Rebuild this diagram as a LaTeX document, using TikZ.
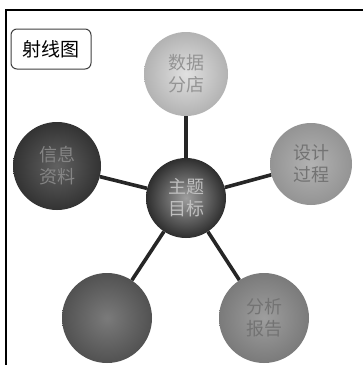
\documentclass[tikz,border=0pt]{standalone}
\usepackage{fontspec}
\newfontfamily\cjk{Noto Sans CJK SC}
\begin{document}
\begin{tikzpicture}[x=1pt,y=-1pt,
  ball/.style={circle, minimum size=#1, inner sep=0pt, align=center,
    font=\cjk\fontsize{18}{22}\selectfont},
  spoke/.style={line width=3.6pt, draw=black!85},
  frame/.style={line width=1.6pt, draw=black}]
\useasboundingbox (0,0) rectangle (363,365);
\fill[white] (0,0) rectangle (363,365);
% outer frame (left and top edges)
\draw[frame] (6,365) -- (6,10) -- (363,10);
% title tag
\node[draw=black!75, line width=1pt, rounded corners=6pt, minimum width=80pt,
  minimum height=40pt, inner sep=0pt, font=\cjk\fontsize{19}{21}\selectfont]
  (tag) at (51,49) {射线图};
% spheres
\node[ball=84pt, shade, inner color=black!12, outer color=black!30,
  text=black!42] (top) at (186,74) {数据\\分店};
\node[ball=82pt, shade, inner color=black!30, outer color=black!42,
  text=black!55] (right) at (311,164) {设计\\过程};
\node[ball=88pt, shade, inner color=black!62, outer color=black!80,
  text=black!48] (left) at (57,166) {信息\\资料};
\node[ball=80pt, shade, inner color=black!38, outer color=black!82,
  text=black!25] (hub) at (186,198) {主题\\目标};
\node[ball=90pt, shade, inner color=black!52, outer color=black!68]
  (lowleft) at (107,318) {};
\node[ball=90pt, shade, inner color=black!38, outer color=black!52,
  text=black!55] (lowright) at (264,318) {分析\\报告};
% spokes
\draw[spoke] (hub) -- (top);
\draw[spoke] (hub) -- (right);
\draw[spoke] (hub) -- (left);
\draw[spoke] (hub) -- (lowleft);
\draw[spoke] (hub) -- (lowright);
\end{tikzpicture}
\end{document}
